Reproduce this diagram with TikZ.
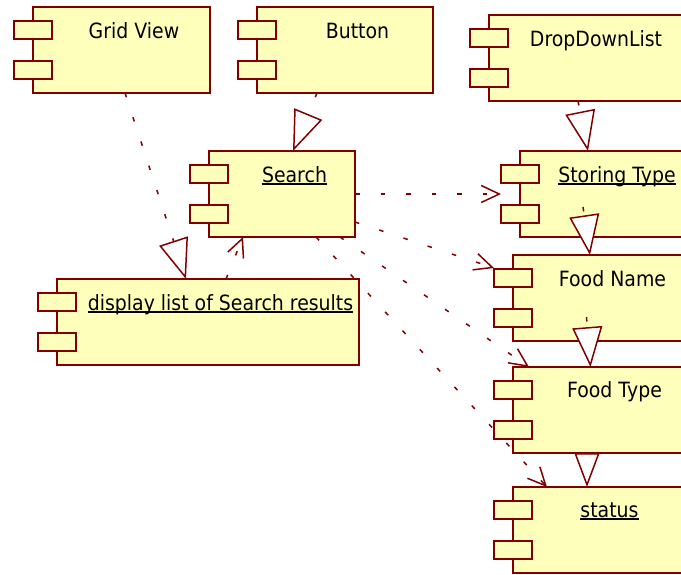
\documentclass[tikz,border=0pt]{standalone}
\usepackage{fontspec}
\setmainfont{DejaVu Sans}[FakeStretch=0.9]
\usetikzlibrary{arrows.meta}
\definecolor{umlline}{RGB}{128,0,0}
\definecolor{umlfill}{RGB}{255,255,188}
\newcommand{\ulx}[1]{{\setbox0\hbox{#1}\rlap{\rule[-2.6pt]{\wd0}{1.5pt}}\box0}}
\newcommand{\compports}[1]{%
  \draw[portbox] ([xshift=-19pt,yshift=-14pt]#1.north west) rectangle ([xshift=19pt,yshift=-32pt]#1.north west);
  \draw[portbox] ([xshift=-19pt,yshift=-54pt]#1.north west) rectangle ([xshift=19pt,yshift=-72pt]#1.north west);}
\tikzset{
  compbox/.style={draw=umlline, fill=umlfill, line width=1.6pt, rectangle, inner sep=0pt, outer sep=0pt, minimum height=86pt},
  portbox/.style={draw=umlline, fill=umlfill, line width=1.6pt},
  comptext/.style={inner sep=0pt, anchor=base, font=\fontsize{21pt}{25pt}\selectfont, text=black},
  depline/.style={draw=umlline, line width=1.5pt, dash pattern=on 4.5pt off 21pt, -{Straight Barb[length=18pt,width=17pt]}},
  realline/.style={draw=umlline, line width=1.5pt, dash pattern=on 4.5pt off 21pt, -{Triangle[open,fill=white,length=40pt,width=30pt]}},
}
\begin{document}
\begin{tikzpicture}[x=1pt,y=-1pt]
\useasboundingbox (0,0) rectangle (681,574);
\clip (0,0) rectangle (681,574);
% components
\node[compbox, minimum width=177pt] (grid) at (121.5,50) {};
\compports{grid}
\node[comptext] (gridt) at (134,38) {Grid View};
\node[compbox, minimum width=176pt] (button) at (345,50) {};
\compports{button}
\node[comptext] (buttont) at (357.5,38) {Button};
\node[compbox, minimum width=211pt] (ddl) at (594.5,58) {};
\compports{ddl}
\node[comptext] (ddlt) at (596,46) {DropDownList};
\node[compbox, minimum width=146pt] (search) at (282,194) {};
\compports{search}
\node[comptext] (searcht) at (294.5,182) {\ulx{Search}};
\node[compbox, minimum width=180pt] (stor) at (610,194) {};
\compports{stor}
\node[comptext] (stort) at (617,182) {\ulx{Storing Type}};
\node[compbox, minimum width=302pt] (disp) at (208,322) {};
\compports{disp}
\node[comptext] (dispt) at (220.5,310) {\ulx{display list of Search results}};
\node[compbox, minimum width=187pt] (fname) at (606.5,298) {};
\compports{fname}
\node[comptext] (fnamet) at (612.5,286) {Food Name};
\node[compbox, minimum width=187pt] (ftype) at (606.5,410) {};
\compports{ftype}
\node[comptext] (ftypet) at (614.5,397) {Food Type};
\node[compbox, minimum width=187pt] (status) at (606.5,530) {};
\compports{status}
\node[comptext] (statust) at (609.5,517) {\ulx{status}};
% realizations
\draw[realline] ([xshift=3.5pt]grid.south) -- ([xshift=-22pt]disp.north);
\draw[realline] ([xshift=-28pt]button.south) -- ([xshift=11pt]search.north);
\draw[realline] ([xshift=-16.5pt]ddl.south) -- ([xshift=-22pt]stor.north);
\draw[realline] ([xshift=-27pt,yshift=30pt]stor.south) -- ([xshift=-16.5pt]fname.north);
\draw[realline] ([xshift=-20pt,yshift=24pt]fname.south) -- ([xshift=-16pt]ftype.north);
\draw[draw=umlline, line width=1.5pt, -{Triangle[open,fill=white,length=34pt,width=25pt]}] ([xshift=-19.5pt]ftype.south) -- ([xshift=-19.5pt]status.north);
% dependencies
\draw[depline] (search.east) -- ([xshift=-19pt]stor.west);
\draw[depline] ([yshift=-28pt]search.east) -- ([xshift=-19pt,yshift=-13pt]fname.north west);
\draw[depline] ([xshift=58pt]search.south) -- ([xshift=16pt]ftype.north west);
\draw[depline] ([xshift=34pt]search.south) -- ([xshift=34pt]status.north west);
\draw[depline] ([xshift=18pt]disp.north) -- ([xshift=-39pt]search.south);
\end{tikzpicture}
\end{document}
